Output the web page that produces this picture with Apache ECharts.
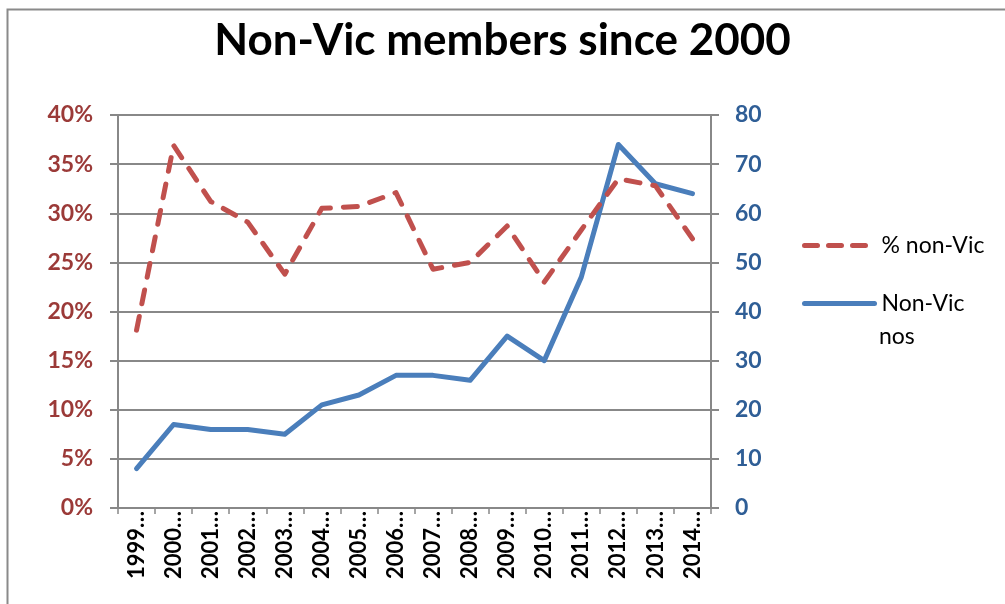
<!DOCTYPE html>
<html>
<head>
<meta charset="utf-8">
<script src="https://cdn.jsdelivr.net/npm/echarts@6/dist/echarts.min.js"></script>
<style>html,body{margin:0;padding:0;background:#fff}#c{width:1005px;height:604px}</style>
</head>
<body>
<div id="c"></div>
<script>
const categories = ['1999…','2000…','2001…','2002…','2003…','2004…','2005…','2006…','2007…','2008…','2009…','2010…','2011…','2012…','2013…','2014…'];
const pctNonVic = [18.1, 36.9, 31.2, 29.1, 23.8, 30.5, 30.7, 32.1, 24.3, 25.0, 28.7, 23.0, 28.3, 33.5, 32.8, 27.4];
const nonVicNos = [8, 17, 16, 16, 15, 21, 23, 27, 27, 26, 35, 30, 47, 74, 66, 64];
const leftTicks = {min: 0, max: 40, interval: 5};
const rightTicks = {min: 0, max: 80, interval: 10};

const FONT = 'Lato';
const GRID = '#888888';
const RED = '#c0504d';
const BLUE = '#4a7ebb';
const chart = echarts.init(document.getElementById('c'), null, {renderer: 'canvas'});
chart.setOption({
  animation: false,
  backgroundColor: '#ffffff',
  title: {
    text: 'Non-Vic members since 2000',
    left: 'center', top: 14,
    textStyle: {fontFamily: FONT, fontWeight: 'bold', fontSize: 44, color: '#000'}
  },
  graphic: [{
    type: 'rect', left: 5, top: 7, silent: true,
    shape: {x: 0, y: 0, width: 1010, height: 610},
    style: {fill: 'none', stroke: '#8a8a8a', lineWidth: 2}
  }, {
    type: 'text', x: 879, y: 337, silent: true,
    style: {text: 'nos', font: '23px Lato', fill: '#000', verticalAlign: 'middle', align: 'left'}
  }],
  legend: [{
    data: ['% non-Vic'], orient: 'vertical', left: 802, top: 234, padding: 0,
    itemWidth: 68, itemHeight: 24,
    itemStyle: {opacity: 0},
    lineStyle: {width: 5, type: [13, 11], cap: 'round', color: RED},
    textStyle: {fontFamily: FONT, fontSize: 23, color: '#000', padding: [0, 0, 0, 4]}
  }, {
    data: ['Non-Vic nos'], orient: 'vertical', left: 802, top: 292, padding: 0,
    itemWidth: 70, itemHeight: 24,
    itemStyle: {opacity: 0},
    lineStyle: {width: 5, cap: 'round', color: BLUE},
    formatter: () => 'Non-Vic',
    textStyle: {fontFamily: FONT, fontSize: 23, color: '#000', padding: [0, 0, 0, 2]}
  }],
  grid: {left: 118, right: 294, top: 115, bottom: 96, containLabel: false},
  xAxis: {
    type: 'category', data: categories, boundaryGap: true,
    axisLine: {lineStyle: {color: GRID, width: 2}},
    axisTick: {show: true, length: 6, lineStyle: {color: GRID, width: 1.5}},
    axisLabel: {rotate: 90, margin: 3, interval: 0, fontFamily: FONT, fontWeight: 'bold', fontSize: 22, color: '#000'}
  },
  yAxis: [{
    type: 'value', position: 'left', ...leftTicks,
    axisLine: {show: true, lineStyle: {color: GRID, width: 2}},
    axisTick: {show: true, length: 8, lineStyle: {color: GRID, width: 2}},
    splitLine: {show: true, lineStyle: {color: GRID, width: 2}},
    axisLabel: {formatter: '{value}%', margin: 25, fontFamily: FONT, fontWeight: 'bold', fontSize: 23, color: '#9b3a38'}
  }, {
    type: 'value', position: 'right', ...rightTicks,
    axisLine: {show: true, lineStyle: {color: GRID, width: 2}},
    axisTick: {show: true, length: 8, lineStyle: {color: GRID, width: 2}},
    splitLine: {show: false},
    axisLabel: {margin: 24, fontFamily: FONT, fontWeight: 'bold', fontSize: 23, color: '#2f5e96'}
  }],
  series: [{
    name: '% non-Vic', type: 'line', yAxisIndex: 0, data: pctNonVic,
    symbol: 'none', z: 3,
    lineStyle: {color: RED, width: 5, type: [14, 13], cap: 'round', join: 'round'},
    itemStyle: {color: RED}
  }, {
    name: 'Non-Vic nos', type: 'line', yAxisIndex: 1, data: nonVicNos,
    symbol: 'none', z: 2,
    lineStyle: {color: BLUE, width: 5, cap: 'round', join: 'round'},
    itemStyle: {color: BLUE}
  }]
});
</script>
</body>
</html>
